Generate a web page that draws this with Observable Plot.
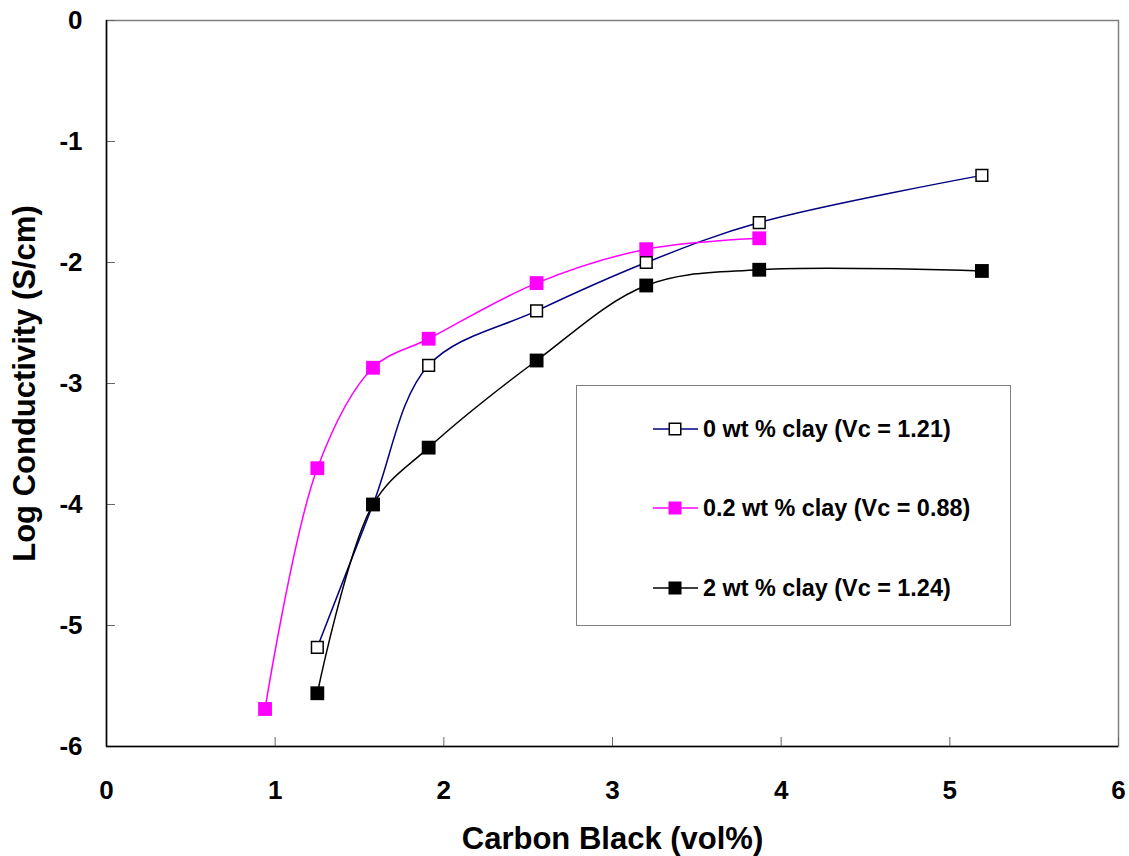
<!DOCTYPE html>
<html>
<head>
<meta charset="utf-8">
<script src="https://cdn.jsdelivr.net/npm/d3@7"></script>
<script src="https://cdn.jsdelivr.net/npm/@observablehq/plot@0.6"></script>
<style>
  html, body { margin: 0; padding: 0; background: #fff; }
  #wrap { position: relative; width: 1129px; height: 856px; font-family: "Liberation Sans", Arial, sans-serif; }
  #legend { position: absolute; left: 576px; top: 385px; width: 435px; height: 241px; border: 1.5px solid #808080; box-sizing: border-box; background: #fff; }
  .item { position: absolute; left: 76px; height: 24px; display: flex; align-items: center; font-weight: bold; font-size: 23.4px; color: #000; white-space: nowrap; }
  .item svg { margin-right: 5px; }
</style>
</head>
<body>
<div id="wrap"></div>
<script>
// Carbon black content (vol%)
const cb0  = [1.25, 1.58, 1.91, 2.55, 3.20, 3.87, 5.19];
const log0 = [-5.18, -4.00, -2.85, -2.40, -2.00, -1.67, -1.28];
const cb02  = [0.94, 1.25, 1.58, 1.91, 2.55, 3.20, 3.87];
const log02 = [-5.69, -3.70, -2.87, -2.63, -2.17, -1.89, -1.80];
const cb2  = [1.25, 1.58, 1.91, 2.55, 3.20, 3.87, 5.19];
const log2 = [-5.56, -4.00, -3.53, -2.81, -2.19, -2.06, -2.07];

const seriesNames = ["0 wt % clay (Vc = 1.21)", "0.2 wt % clay (Vc = 0.88)", "2 wt % clay (Vc = 1.24)"];
const xTicks = [0, 1, 2, 3, 4, 5, 6];
const yTicks = [0, -1, -2, -3, -4, -5, -6];

const toRows = (xs, ys) => xs.map((x, i) => ({x, y: ys[i]}));
const s0 = toRows(cb0, log0), s02 = toRows(cb02, log02), s2 = toRows(cb2, log2);

const styles = [
  {line: "#000080", fill: "#ffffff", stroke: "#000000"},
  {line: "#ff00ff", fill: "#ff00ff", stroke: "#ff00ff"},
  {line: "#000000", fill: "#000000", stroke: "#000000"}
];
const fmt = d => String(d);
const curve = "catmull-rom";

const chart = Plot.plot({
  width: 1129,
  height: 856,
  marginLeft: 106,
  marginTop: 20,
  marginRight: 11,
  marginBottom: 110,
  style: {fontFamily: "'Liberation Sans', Arial, sans-serif", fontSize: "26px", fontWeight: "bold", color: "#000", background: "#fff"},
  x: {domain: [0, 6]},
  y: {domain: [-6, 0]},
  marks: [
    Plot.frame({stroke: "#808080", strokeWidth: 1.5}),
    Plot.axisX(xTicks, {tickSize: -9, tickPadding: 43, tickFormat: fmt, fontSize: 26, fontWeight: "bold", stroke: "#666", fill: "#000", label: null}),
    Plot.axisY(yTicks, {tickSize: -9, tickPadding: 33, tickFormat: fmt, fontSize: 26, fontWeight: "bold", stroke: "#666", fill: "#000", label: null}),
    Plot.ruleX([0], {stroke: "#000", strokeWidth: 1.5}),
    Plot.ruleY([-6], {stroke: "#000", strokeWidth: 1.5}),
    Plot.line(s0, {x: "x", y: "y", stroke: styles[0].line, strokeWidth: 1.5, curve}),
    Plot.dot(s0, {x: "x", y: "y", symbol: "square", r: 6.6, fill: styles[0].fill, stroke: styles[0].stroke, strokeWidth: 1.5}),
    Plot.line(s02, {x: "x", y: "y", stroke: styles[1].line, strokeWidth: 1.5, curve}),
    Plot.dot(s02, {x: "x", y: "y", symbol: "square", r: 7.8, fill: styles[1].fill, stroke: "none"}),
    Plot.line(s2, {x: "x", y: "y", stroke: styles[2].line, strokeWidth: 1.5, curve}),
    Plot.dot(s2, {x: "x", y: "y", symbol: "square", r: 7.8, fill: styles[2].fill, stroke: "none"}),
    Plot.text(["Carbon Black (vol%)"], {frameAnchor: "bottom", textAnchor: "middle", lineAnchor: "middle", dx: 0, dy: 93, fontSize: 31, fontWeight: "bold", fill: "#000"}),
    Plot.text(["Log Conductivity (S/cm)"], {frameAnchor: "left", textAnchor: "middle", lineAnchor: "middle", rotate: -90, dx: -81, dy: 0, fontSize: 31, fontWeight: "bold", fill: "#000"})
  ]
});

const wrap = document.getElementById("wrap");
wrap.appendChild(chart);

// Legend (inside plot area)
const legend = document.createElement("div");
legend.id = "legend";
const rowTops = [31, 110, 190];
seriesNames.forEach((name, i) => {
  const st = styles[i];
  const item = document.createElement("div");
  item.className = "item";
  item.style.top = rowTops[i] + "px";
  const filled = i !== 0;
  item.innerHTML = `<svg width="45" height="16" viewBox="0 0 45 16">
      <line x1="0" y1="8" x2="45" y2="8" stroke="${st.line}" stroke-width="1.5"/>
      <rect x="${filled ? 15.5 : 16.25}" y="${filled ? 1.5 : 2.25}" width="${filled ? 13 : 11.5}" height="${filled ? 13 : 11.5}" fill="${st.fill}" stroke="${filled ? "none" : st.stroke}" stroke-width="1.5"/>
    </svg><span>${name}</span>`;
  legend.appendChild(item);
});
wrap.appendChild(legend);
</script>
</body>
</html>
